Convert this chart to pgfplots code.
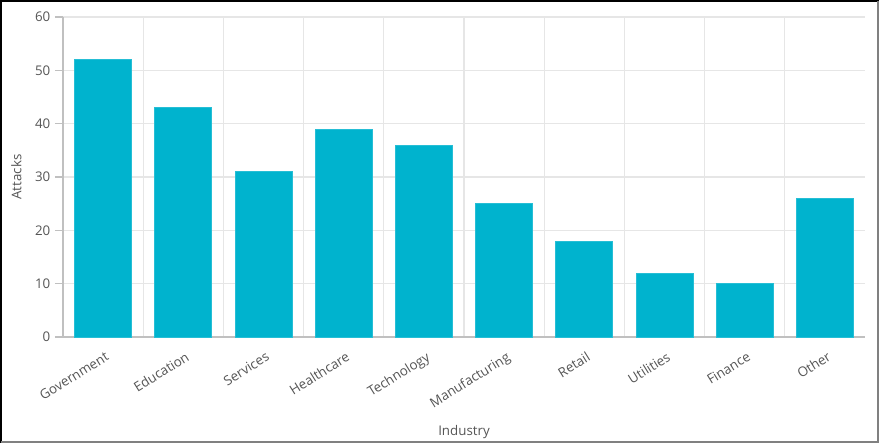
\documentclass[border=0pt]{standalone}
\usepackage{pgfplots}
\pgfplotsset{compat=1.18}
\usepackage{fontspec}
\setmainfont{Open Sans}
\definecolor{barc}{HTML}{00B3CE}
\definecolor{gridc}{HTML}{E6E6E6}
\definecolor{axc}{HTML}{C0C0C0}
\definecolor{txt}{HTML}{555555}

\begin{document}
\begin{tikzpicture}[x=0.75pt,y=0.75pt]
% page = 879 x 443 px, 1 unit = 1 px
\useasboundingbox (0,0) rectangle (879,443);
\fill[white] (0,0) rectangle (879,443);
\begin{axis}[
    at={(47.25pt,79.5pt)}, anchor=south west,
    scale only axis,
    width=601.5pt, height=240pt,
    xmin=-0.5, xmax=9.5,
    ymin=0, ymax=60,
    ytick={0,10,20,30,40,50,60},
    xtick={0,1,2,3,4,5,6,7,8,9},
    xticklabels={Government,Education,Services,Healthcare,Technology,Manufacturing,Retail,Utilities,Finance,Other},
    minor xtick={-0.5,0.5,1.5,2.5,3.5,4.5,5.5,6.5,7.5,8.5},
    xminorgrids=true, ymajorgrids=true,
    grid style={gridc, line width=0.8pt},
    minor grid style={gridc, line width=0.8pt},
    axis x line*=bottom, axis y line*=left,
    axis line style={axc, line width=0.8pt, -},
    tick align=outside,
    major tick length=6pt,
    minor tick length=7.5pt,
    x tick style={draw=none},
    every minor tick/.style={gridc, line width=0.8pt},
    y tick style={axc, line width=0.8pt},
    tick label style={font=\fontsize{10}{12}\selectfont, text=txt},
    x tick label style={rotate=32, anchor=north east, xshift=2pt, yshift=-1pt},
    /pgf/number format/assume math mode=true,
    xlabel={Industry}, ylabel={Attacks},
    label style={font=\fontsize{10}{12}\selectfont, text=txt},
    xlabel style={at={(axis description cs:0.5,-0.296)}, anchor=center},
    ylabel style={at={(axis description cs:-0.058,0.5)}, anchor=center},
    ybar, bar width=42.75pt, bar shift=0pt,
]
\addplot[fill=barc, draw=barc!85!white, line width=0.5pt] coordinates {
(0,52) (1,43) (2,31) (3,39) (4,36) (5,25) (6,18) (7,12) (8,10) (9,26)
};
\end{axis}
\draw[black, line width=1.5pt] (1,1) rectangle (878,442);
\draw[gray, line width=1.5pt] (1,1) -- (878,1) -- (878,442);
\end{tikzpicture}
\end{document}
